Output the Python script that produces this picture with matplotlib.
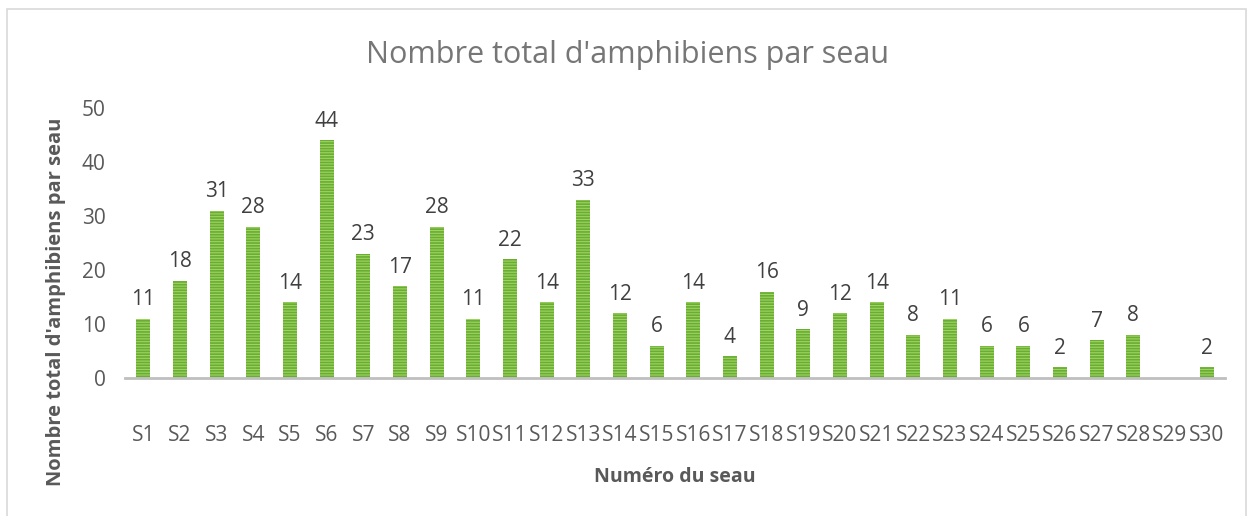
import matplotlib
matplotlib.use("Agg")
import matplotlib.pyplot as plt
from matplotlib.patches import Rectangle

categories = [f"S{i}" for i in range(1, 31)]
values = [11, 18, 31, 28, 14, 44, 23, 17, 28, 11, 22, 14, 33, 12, 6, 14, 4, 16, 9, 12,
          14, 8, 11, 6, 6, 2, 7, 8, 0, 2]
yticks = [0, 10, 20, 30, 40, 50]
title = "Nombre total d'amphibiens par seau"
xlabel = "Numéro du seau"
ylabel = "Nombre total d'amphibiens par seau"

plt.rcParams['font.family'] = ['Open Sans', 'DejaVu Sans']
plt.rcParams['hatch.linewidth'] = 1.2
plt.rcParams['hatch.color'] = '#69AD36'

W, H = 1250, 516
fig = plt.figure(figsize=(W/100, H/100), dpi=100)
fig.patch.set_facecolor('white')

# outer chart border
fig.add_artist(Rectangle((7/W, -0.05), (1246-7)/W, (H-9)/H + 0.05, transform=fig.transFigure,
                         fill=False, edgecolor='#D9D9D9', linewidth=1.2))

ax = fig.add_axes([125/W, 1-378/H, 1100/W, (378-108)/H])
x = list(range(len(categories)))
ax.bar(x, values, width=0.38, color='#9FD45E', hatch='------', edgecolor='#69AD36', linewidth=0)
ax.set_xlim(-0.5, len(categories)-0.5)
ax.set_ylim(0, 50)
ax.set_yticks(yticks)
ax.set_yticklabels([str(t) for t in yticks], fontsize=15, color='#595959')
ax.set_xticks(x)
ax.set_xticklabels(categories, fontsize=15, color='#595959')
ax.tick_params(axis='x', length=0, pad=34)
ax.tick_params(axis='y', length=0, pad=14)
for s in ['top', 'right', 'left']:
    ax.spines[s].set_visible(False)
ax.spines['bottom'].set_color('#BFBFBF')
ax.spines['bottom'].set_linewidth(2)

for xi, v in zip(x, values):
    if v > 0:
        ax.annotate(str(v), (xi, v), xytext=(0, 6), textcoords='offset points',
                    ha='center', va='bottom', fontsize=15, color='#404040')

fig.text(628/W, 1-55/H, title, ha='center', va='center', fontsize=22, color='#767676')
fig.text(675/W, 1-477/H, xlabel, ha='center', va='center', fontsize=14, fontweight='bold', color='#595959')
fig.text(56/W, 1-302/H, ylabel, ha='center', va='center', rotation=90, fontsize=14.5,
         fontweight='bold', color='#595959')

fig.savefig('out.png', dpi=100)
